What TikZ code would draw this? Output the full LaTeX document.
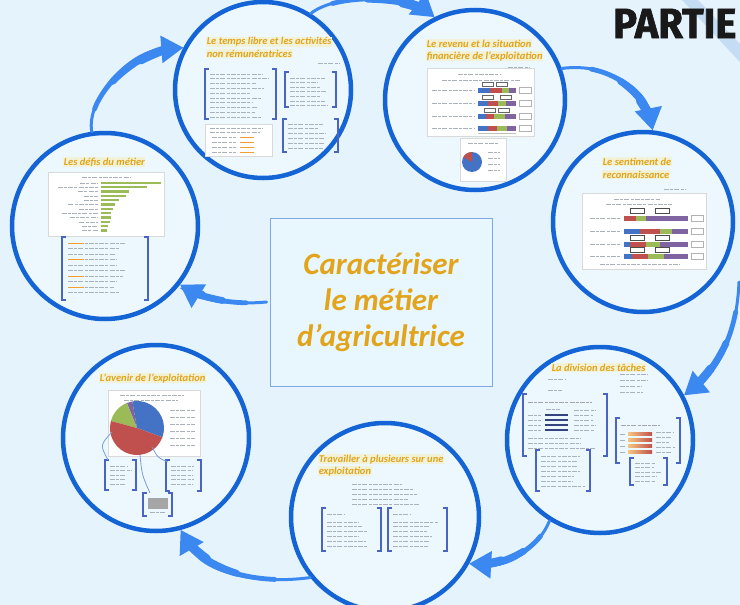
\documentclass[tikz,border=0pt]{standalone}
\usepackage{fontspec}
\usepackage{graphicx}
\setmainfont{Carlito}
\newfontfamily\partiefont[BoldFeatures={FakeBold=1.6}]{Fira Sans}
\usetikzlibrary{arrows.meta,calc}
\definecolor{bg}{HTML}{E4F3FC}
\definecolor{cfill}{HTML}{ECF8FE}
\definecolor{cline}{HTML}{1464D6}
\definecolor{arrowc}{HTML}{3A88F0}
\definecolor{gold}{HTML}{E2A41A}
\definecolor{ttlbg}{HTML}{F1F2D8}
\definecolor{boxline}{HTML}{80A8E4}
\definecolor{boxfill}{HTML}{E8F6FE}
\definecolor{stripec}{HTML}{C4DCF4}
\definecolor{brkc}{HTML}{4A64C4}
\definecolor{txtc}{HTML}{A9B1BA}
\definecolor{cblue}{HTML}{4472C4}
\definecolor{cred}{HTML}{C0504D}
\definecolor{cgreen}{HTML}{9BBB59}
\definecolor{cpurple}{HTML}{8064A2}
\definecolor{corange}{HTML}{F0A030}
\definecolor{cnavy}{HTML}{34447E}
\newcommand\brk[4]{%
  \draw[brkt] (#1+4,#2) -- (#1,#2) -- (#1,#4) -- (#1+4,#4);
  \draw[brkt] (#3-4,#2) -- (#3,#2) -- (#3,#4) -- (#3-4,#4);}
\newcommand\tlines[5]{% x y width n step
  \foreach \i in {1,...,#4}{%
    \pgfmathsetmacro\ww{#3*(0.65+0.35*rnd)}%
    \draw[txt] (#1,{#2+(\i-1)*#5}) -- ++(\ww,0);}}
\newcommand\wrect[4]{\fill[white,draw=gray!30,line width=0.4pt] (#1,#2) rectangle (#3,#4);}
% tapered arrow: start, control 1, control 2, end
\newcommand\tarrow[4]{%
  \draw[arr] (#1) .. controls (#2) and (#3) .. (#4);
  \path (#1) coordinate (p0) (#2) coordinate (p1) (#3) coordinate (p2) (#4) coordinate (p3);
  \foreach \s/\w in {0.22/4.8,0.48/6.8,0.72/8.5}{%
    \path ($(p0)!\s!(p1)$) coordinate (q01) ($(p1)!\s!(p2)$) coordinate (q12) ($(p2)!\s!(p3)$) coordinate (q23);
    \path ($(q01)!\s!(q12)$) coordinate (q012) ($(q12)!\s!(q23)$) coordinate (q123);
    \path ($(q012)!\s!(q123)$) coordinate (q0123);
    \draw[arrowc,line width=\w pt,line cap=round,shorten >=18pt] (q0123) .. controls (q123) and (q23) .. (p3);}}
\begin{document}
\begin{tikzpicture}[x=1pt,y=-1pt,
  circ/.style={circle,draw=cline,line width=4.5pt,fill=cfill,inner sep=0pt},
  cbox/.style={draw=boxline,line width=1pt,fill=boxfill,minimum width=222pt,minimum height=168pt,inner sep=0pt},
  ttl/.style={anchor=base west,inner sep=0.6pt,fill=ttlbg,text=gold,font=\fontsize{10.5}{12}\selectfont\bfseries\itshape},
  arr/.style={draw=arrowc,line width=3pt,line cap=round,-{Triangle[length=22pt,width=27pt]}},
  brkt/.style={draw=brkc,line width=1.3pt},
  txt/.style={draw=txtc,line width=0.85pt,dash pattern=on 5pt off 1.2pt on 3pt off 1.2pt},
  bar/.style={line width=5pt},
  thinlink/.style={draw=cblue!70,line width=0.8pt}]
\pgfmathsetseed{11}
\fill[bg] (0,0) rectangle (740,605);
\useasboundingbox (0,0) rectangle (740,605);
\fill[stripec] (682,0) -- (698,0) -- (740,44) -- (740,62) -- cycle;

% circles
\node[circ,minimum size=176pt] (c1) at (263,90) {};
\node[circ,minimum size=180pt] (c2) at (475,100) {};
\node[circ,minimum size=180pt] (c3) at (643,222) {};
\node[circ,minimum size=186pt] (c4) at (105,226) {};
\node[circ,minimum size=186pt] (c5) at (156,438) {};
\node[circ,minimum size=186pt] (c6) at (600,440) {};
\node[circ,minimum size=188pt] (c7) at (385,517) {};

% centre box
\node[cbox,align=center,text=gold,font=\fontsize{31}{36}\selectfont\bfseries\itshape] (box) at (381,302) {Caractériser\\le métier\\d'agricultrice};

% PARTIE
\node[anchor=base west,inner sep=0pt,font=\partiefont\fontsize{42}{42}\selectfont\bfseries,text=black!90] (partie) at (613,38) {\scalebox{0.95}[1]{PARTIE}};

% titles
\node[ttl] (t1a) at (206,45) {Le temps libre et les activités};
\node[ttl] (t1b) at (206,57) {non rémunératrices};
\node[ttl] (t2a) at (426,47) {Le revenu et la situation};
\node[ttl] (t2b) at (426,59) {financière de l'exploitation};
\node[ttl] (t3a) at (602,165) {Le sentiment de};
\node[ttl] (t3b) at (602,178) {reconnaissance};
\node[ttl] (t4) at (63,165) {Les défis du métier};
\node[ttl] (t5) at (99,381) {L'avenir de l'exploitation};
\node[ttl] (t6) at (551,371) {La division des tâches};
\node[ttl] (t7a) at (318,462) {Travailler à plusieurs sur une};
\node[ttl] (t7b) at (318,474) {exploitation};

% ---- circle 1 content
\draw[txt] (318,63) -- (340,63);
\brk{205}{69}{276}{119}
\tlines{210}{74}{60}{10}{4.8}
\brk{285}{72}{336}{107}
\tlines{290}{78}{40}{7}{4.6}
\wrect{205}{124}{272}{156}
\tlines{210}{128}{55}{2}{4}
\foreach \yy in {137,142,147,152}{\draw[txt] (212,\yy) -- (236,\yy); \draw[corange,line width=1pt] (240,\yy) -- (254,\yy);}
\brk{283}{119}{338}{152}
\tlines{288}{124}{42}{6}{4.8}

% ---- circle 2 content
\draw[txt] (508,67) -- (530,67);
\wrect{427}{68}{534}{136}
\draw[txt] (458,74) -- (500,74);
\draw[txt] (442,80) -- (520,80);
\foreach \yy/\a/\b/\c in {90/490/502/509, 103/488/498/506, 116/486/494/505, 128/488/497/507}{
  \draw[txt] (432,\yy) -- (474,\yy);
  \draw[bar,cblue] (478,\yy) -- (\a,\yy);
  \draw[bar,cred] (\a,\yy) -- (\b,\yy);
  \draw[bar,cgreen] (\b,\yy) -- (\c,\yy);
  \draw[bar,cpurple] (\c,\yy) -- (516,\yy);
  \draw[gray!60,line width=0.5pt] (519,\yy-3) rectangle (531,\yy+3);
}
\foreach \xx/\yy in {482/84,496/84,482/97,500/97,484/110,498/110}{\draw[black!60,line width=0.4pt] (\xx,\yy-2) rectangle (\xx+11,\yy+2);}
\draw[gray!50,line width=0.5pt] (478,133) -- (516,133);
\wrect{460}{138}{506}{181}
\draw[txt] (468,143) -- (498,143);
\fill[cblue] (472,162) circle (10);
\fill[cred] (472,162) -- ++(-90:10) arc[start angle=-90,end angle=-150,radius=10] -- cycle;
\foreach \yy in {152,158,164,170}{\draw[txt] (488,\yy) -- (500,\yy);}

% ---- circle 3 content
\draw[txt] (664,189) -- (686,189);
\wrect{582}{193}{706}{269}
\draw[txt] (614,199) -- (660,199);
\draw[txt] (606,204) -- (672,204);
\foreach \yy/\a/\b/\c in {218/624/636/646, 231/640/660/672, 244/630/646/660, 256/632/648/664}{
  \draw[txt] (590,\yy) -- (620,\yy);
  \draw[bar,cblue] (624,\yy) -- (\a,\yy);
  \draw[bar,cred] (\a,\yy) -- (\b,\yy);
  \draw[bar,cgreen] (\b,\yy) -- (\c,\yy);
  \draw[bar,cpurple] (\c,\yy) -- (688,\yy);
  \draw[gray!60,line width=0.5pt] (691,\yy-3) rectangle (703,\yy+3);
}
\foreach \xx/\yy in {630/211,655/211,630/237.5,655/237.5,630/250,655/250}{\draw[black!70,line width=0.5pt] (\xx,\yy-2.5) rectangle (\xx+14,\yy+2.5);}
\draw[txt] (600,264) -- (680,264);

% ---- circle 4 content
\wrect{48}{172}{164}{236}
\draw[txt] (82,177) -- (130,177);
\foreach \yy/\ll in {183/60,187/46,191.5/28,196/25,200/18,204.5/14,209/12,213/10,217.5/10,222/9,226/7,230.5/6}{
  \pgfmathsetmacro\lx{100-14-30*rnd}
  \draw[txt,line width=0.7pt] (\lx,\yy) -- (98,\yy);
  \draw[cgreen,line width=2.4pt] (101,\yy) -- ++(\ll,0);}
\brk{62}{237}{148}{300}
\foreach \yy in {243,248.5,254,259.5,265,270.5,276,281.5,287,292.5}{
  \pgfmathsetmacro\ww{65*(0.7+0.3*rnd)}
  \draw[txt] (68,\yy) -- ++(\ww,0);}
\foreach \yy in {243,259.5,276,287}{\draw[corange,line width=1pt] (68,\yy) -- ++(16,0);}

% ---- circle 5 content
\wrect{108}{390}{200}{456}
\draw[txt] (120,395) -- (184,395);
\draw[txt] (124,400) -- (178,400);
\coordinate (pie) at (137,428);
\fill[cblue] (pie) -- ++(20:27) arc[start angle=20,end angle=-100,radius=27] -- cycle;
\fill[cpurple] (pie) -- ++(-100:27) arc[start angle=-100,end angle=-112,radius=27] -- cycle;
\fill[cgreen] (pie) -- ++(-112:27) arc[start angle=-112,end angle=-165,radius=27] -- cycle;
\fill[cred] (pie) -- ++(-165:27) arc[start angle=-165,end angle=-340,radius=27] -- cycle;
\foreach \yy in {410,417,424,431,438,445}{\draw[txt] (170,\yy) -- (195,\yy);}
\brk{105}{460}{136}{490}
\tlines{110}{466}{22}{5}{4.5}
\brk{166}{460}{201}{491}
\tlines{171}{466}{26}{5}{4.5}
\brk{143}{493}{172}{516}
\fill[gray!70] (148,498) rectangle (168,509);
\draw[txt] (150,512) -- (166,512);
\draw[thinlink] (112,432) .. controls (100,445) .. (108,460);
\draw[thinlink] (140,455) .. controls (142,475) .. (150,493);
\draw[thinlink] (152,447) .. controls (158,458) .. (168,462);

% ---- circle 6 content
\draw[txt] (548,379) -- (566,379);
\draw[txt] (548,390) -- (562,390);
\tlines{620}{374}{30}{4}{6}
\brk{523}{394}{607}{456}
\draw[txt,draw=gray!70] (528,402) -- (592,402);
\draw[txt] (546,409) -- (560,409);
\foreach \yy in {415,420,425,430}{\draw[cnavy,line width=2.4pt] (545,\yy) -- (568,\yy); \draw[txt] (528,\yy) -- (541,\yy);}
\tlines{574}{410}{26}{5}{5}
\tlines{528}{438}{72}{3}{5}
\brk{536}{450}{590}{491}
\tlines{541}{456}{45}{7}{5}
\brk{616}{418}{680}{463}
\draw[txt,draw=gray!70] (621,425) -- (660,425);
\foreach \yy in {434,440,446,452}{
  \shade[left color=corange!60,right color=cred] (628,\yy-1.2) rectangle (652,\yy+1.2);
  \draw[txt] (620,\yy) -- (626,\yy);}
\tlines{656}{432}{20}{5}{5}
\brk{630}{458}{667}{485}
\tlines{635}{463}{28}{5}{4.5}

% ---- circle 7 content
\tlines{352}{484}{70}{5}{5}
\brk{322}{508}{381}{551}
\draw[txt] (327,514) -- (345,514);
\tlines{327}{522}{48}{6}{4.8}
\brk{388}{508}{447}{551}
\draw[txt] (393,514) -- (410,514);
\tlines{393}{522}{48}{6}{4.8}

% ---- arrows
\coordinate (a3s) at (739,282);
\coordinate (a6s) at ([xshift=-3pt]box.west);
\tarrow{c1.58}{335,-6}{405,-6}{c2.116}
\tarrow{c2.20}{610,62}{645,92}{c3.84}
\tarrow{a3s}{737,330}{722,365}{c6.28}
\tarrow{c6.-122}{540,545}{512,566}{c7.-29}
\tarrow{c7.219}{255,585}{205,572}{c5.-75}
\tarrow{a6s}{235,305}{205,300}{c4.-38}
\tarrow{c4.98}{86,100}{128,52}{c1.152}
\end{tikzpicture}
\end{document}
